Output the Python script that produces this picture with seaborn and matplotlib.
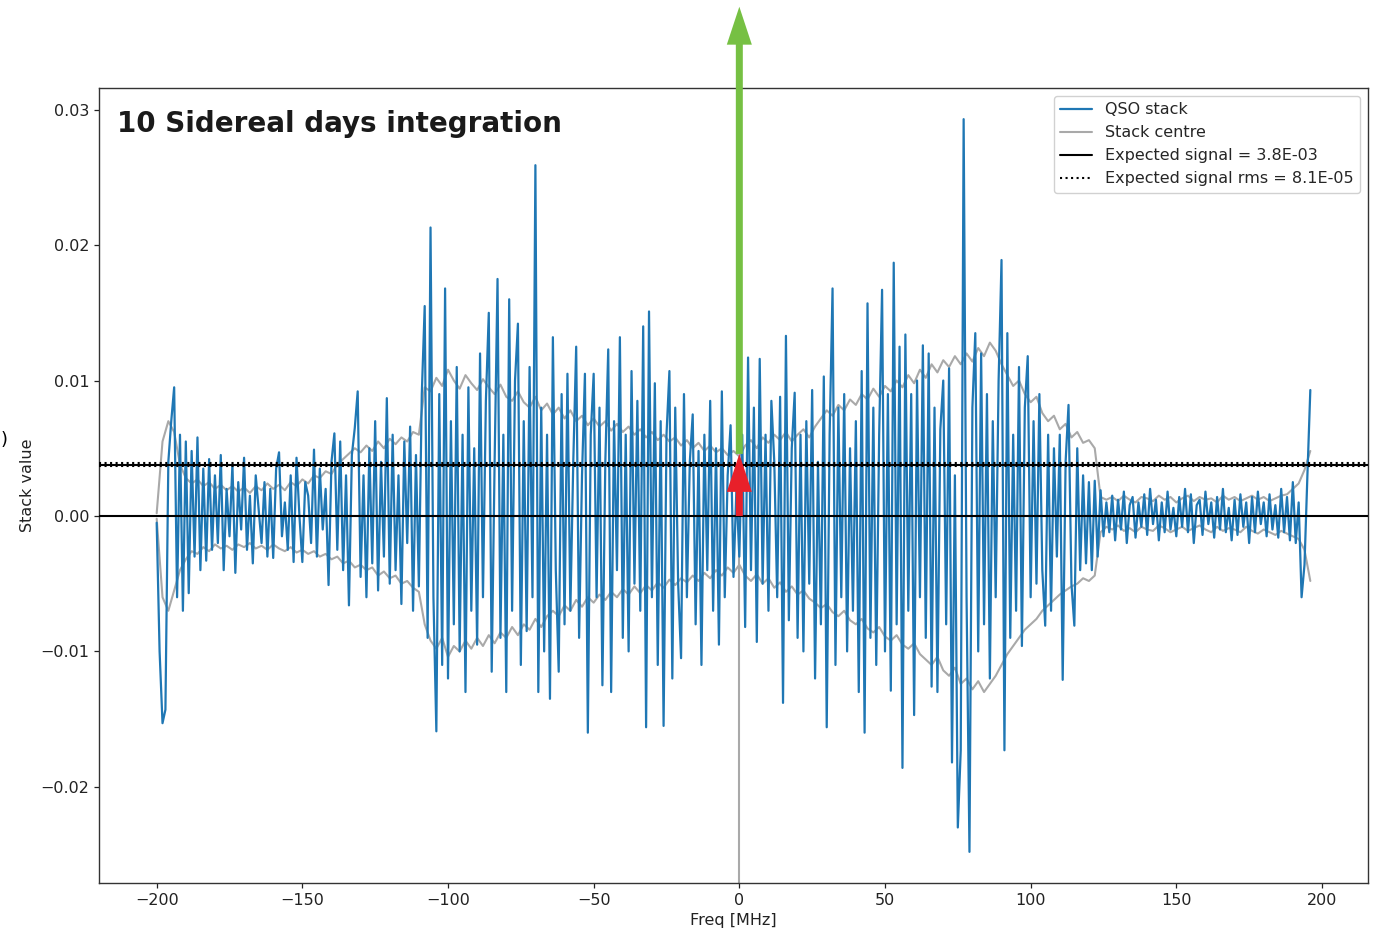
import numpy as np
import pandas as pd
import matplotlib
matplotlib.use("Agg")
import matplotlib.pyplot as plt
import seaborn as sns
from matplotlib.patches import FancyArrow
from matplotlib.lines import Line2D

# ---------------- data (values in units of 1e-4) ----------------
freq_mhz = np.arange(-200, 197)          # channel frequencies, 1 MHz steps
qso_stack_e4 = [
    -5, -100, -153, -143, 40, 70, 95, -60, 60, -70,
    55, -57, 48, -30, 58, -40, 35, -33, 42, -25,
    30, -20, 45, -40, 20, -15, 38, -42, 25, -10,
    43, -25, 15, -35, 30, 5, -20, 25, -30, 20,
    -31, 35, 47, -15, 10, -25, 30, -34, 43, 0,
    -34, 25, 15, -20, 49, -30, 35, -10, 20, -51,
    40, 61, -25, 55, -40, 30, -66, 45, 65, 92,
    -45, 30, -60, 50, -35, 70, -55, 40, -30, 87,
    -50, 60, -40, 30, -65, 55, -20, 66, -70, 45,
    -52, 90, 155, -90, 213, -60, -159, 90, -110, 168,
    -120, 70, -80, 110, -100, 60, -130, 95, -70, 50,
    -95, 120, -60, 85, 150, -115, 40, 175, -90, 60,
    -130, 160, -70, 100, 142, -110, 70, -85, 110, -60,
    259, -130, 80, -100, 60, -135, 132, -40, -115, 90,
    -80, 105, -70, 40, 125, -90, 30, 105, -160, 60,
    105, -60, 80, -125, 40, 123, -130, 70, -40, 132,
    -90, 60, -100, 107, -50, 85, -70, 140, -156, 151,
    -60, 98, -110, 70, -155, 60, 107, -120, 80, -50,
    -105, 90, -60, 40, 75, -80, 48, -110, 60, -40,
    85, -70, 50, -95, 92, -60, 30, 67, -45, 20,
    -30, 60, -82, 117, -40, 80, -93, 116, -50, 60,
    -70, 85, 40, -60, 88, -138, 133, -77, 50, 91,
    -90, 60, -100, 70, -50, 93, -120, 40, -80, 103,
    -156, 60, 168, -110, 80, -60, 90, -100, 50, -70,
    70, -130, 107, -160, 157, -90, 80, -110, 60, 167,
    -100, 90, -129, 187, -80, 125, -186, 134, -70, 90,
    -147, 100, -60, 126, -90, 120, -126, 80, -130, 64,
    100, -80, 109, -182, 30, -230, -173, 293, -60, -248,
    80, 135, -100, 120, -80, 90, -120, 70, -60, 100,
    189, -173, 135, -90, 60, -70, 110, -96, 80, 118,
    -60, 70, -50, 90, -40, -81, 60, -70, 50, -30,
    60, -121, 40, 82, -50, -81, 50, -40, 30, -35,
    25, -40, 26, -30, 19, -15, 10, -12, 15, -18,
    12, -10, 18, -20, 8, 14, -16, 10, -8, 16,
    -14, 20, -6, 12, -18, 10, -12, 18, -10, 6,
    -15, 14, -8, 20, -12, 16, -20, 8, 12, -14,
    18, -6, 10, -16, 14, -10, 20, -12, 6, -18,
    12, -14, 16, -8, 10, -20, 14, -12, 18, -6,
    10, -15, 16, -10, 8, -16, 20, -12, 14, -18,
    25, -20, 10, -60, -36, 30, 93,
]

centre_freq_mhz = np.arange(-200, 197, 2)  # 2 MHz steps
centre_upper_e4 = [
    2, 55, 70, 62, 38, 28, 24, 27, 22, 25,
    20, 23, 19, 22, 18, 21, 17, 22, 19, 24,
    20, 23, 19, 25, 22, 27, 24, 30, 28, 33,
    31, 38, 42, 46, 50, 47, 52, 48, 55, 50,
    57, 53, 58, 55, 62, 60, 95, 92, 102, 96,
    108, 100, 94, 104, 98, 93, 101, 95, 90, 97,
    88, 85, 92, 84, 80, 88, 78, 83, 75, 80,
    72, 78, 70, 74, 67, 72, 66, 70, 63, 68,
    62, 66, 60, 64, 58, 62, 56, 60, 55, 58,
    52, 56, 50, 54, 48, 52, 47, 50, 45, 48,
    44, 52, 56, 50, 58, 54, 60, 56, 62, 55,
    60, 64, 58, 66, 72, 78, 74, 82, 78, 86,
    82, 90, 86, 94, 88, 96, 92, 100, 95, 104,
    98, 108, 102, 112, 106, 115, 110, 118, 112, 120,
    114, 124, 118, 128, 122, 112, 104, 96, 100, 90,
    84, 88, 76, 70, 74, 64, 68, 58, 62, 54,
    56, 50, 14, 12, 14, 11, 15, 12, 10, 14,
    13, 11, 15, 12, 14, 10, 13, 15, 11, 14,
    12, 13, 10, 15, 12, 14, 11, 13, 15, 12,
    14, 11, 13, 15, 16, 20, 24, 34, 48,
]
centre_lower_e4 = [
    -2, -60, -70, -55, -40, -32, -26, -28, -23, -26,
    -21, -24, -22, -25, -21, -23, -20, -24, -22, -25,
    -21, -24, -26, -23, -27, -25, -28, -26, -30, -28,
    -32, -30, -35, -33, -38, -36, -40, -38, -44, -41,
    -46, -44, -50, -48, -53, -56, -80, -92, -98, -90,
    -104, -96, -100, -92, -98, -90, -96, -88, -94, -86,
    -90, -82, -88, -80, -84, -76, -82, -74, -70, -74,
    -66, -70, -62, -67, -60, -64, -58, -62, -56, -60,
    -54, -58, -52, -57, -51, -55, -49, -53, -47, -51,
    -46, -49, -44, -48, -42, -46, -40, -44, -38, -42,
    -36, -44, -48, -43, -50, -46, -53, -49, -56, -52,
    -58, -55, -61, -64, -68, -65, -71, -74, -70, -77,
    -80, -76, -83, -86, -82, -89, -92, -88, -95, -98,
    -94, -102, -106, -110, -104, -114, -118, -112, -124, -120,
    -128, -122, -130, -124, -118, -110, -102, -96, -90, -84,
    -80, -76, -70, -66, -62, -58, -55, -52, -50, -46,
    -48, -44, -12, -8, -10, -7, -11, -9, -12, -8,
    -10, -11, -7, -9, -12, -10, -8, -11, -9, -7,
    -10, -12, -8, -11, -9, -10, -12, -8, -11, -13,
    -10, -12, -14, -11, -13, -15, -17, -25, -48,
]

expected_signal = 3.8e-3
expected_rms = 8.1e-5
x_ticks = [-200, -150, -100, -50, 0, 50, 100, 150, 200]
y_ticks = [-0.02, -0.01, 0.00, 0.01, 0.02, 0.03]
title_text = "10 Sidereal days integration"
labels = ["QSO stack", "Stack centre",
          "Expected signal = 3.8E-03", "Expected signal rms = 8.1E-05"]

qso_stack = np.array(qso_stack_e4) * 1e-4
centre_upper = np.array(centre_upper_e4) * 1e-4
centre_lower = np.array(centre_lower_e4) * 1e-4

# ---------------- style ----------------
sns.set_theme(style="ticks")
plt.rcParams['font.family'] = ['DejaVu Sans']
plt.rcParams.update({
    'axes.edgecolor': '#333333', 'axes.linewidth': 1.0,
    'xtick.major.size': 3.5, 'ytick.major.size': 3.5,
    'xtick.major.width': 0.9, 'ytick.major.width': 0.9,
    'xtick.color': '#222222', 'ytick.color': '#222222',
    'font.size': 11.5,
})

BLUE = '#1f77b4'
GREY = '#a9a9a9'

fig = plt.figure(figsize=(13.79, 9.35), dpi=100)
ax = fig.add_axes([99 / 1379, 1 - 883 / 935, 1269 / 1379, 795 / 935])
ax.set_facecolor('white')

df_q = pd.DataFrame({'freq': freq_mhz, 'value': qso_stack})
df_u = pd.DataFrame({'freq': centre_freq_mhz, 'value': centre_upper})
df_l = pd.DataFrame({'freq': centre_freq_mhz, 'value': centre_lower})

sns.lineplot(data=df_u, x='freq', y='value', ax=ax, color=GREY, lw=1.5,
             estimator=None, sort=False, zorder=2)
sns.lineplot(data=df_l, x='freq', y='value', ax=ax, color=GREY, lw=1.5,
             estimator=None, sort=False, zorder=2)
sns.lineplot(data=df_q, x='freq', y='value', ax=ax, color=BLUE, lw=1.6,
             estimator=None, sort=False, zorder=3)

ylo, yhi = -0.0271, 0.0316
ax.set_ylim(ylo, yhi)

# vertical grey line of stack centre at 0
ax.plot([0, 0], [ylo, 0], color=GREY, lw=1.5, zorder=2)

ax.axhline(0, color='black', lw=1.5, zorder=4)
ax.axhline(expected_signal, color='black', lw=1.5, zorder=4)
ax.axhline(expected_signal + expected_rms, color='black', lw=1.5, ls=':', zorder=4)
ax.axhline(expected_signal - expected_rms, color='black', lw=1.5, ls=':', zorder=4)

# arrows
tip = 0.00458
top = 0.0376
ax.add_patch(FancyArrow(0, 0, 0, tip, width=2.4, head_width=8.6, head_length=0.0028,
                        length_includes_head=True, color='#e8202a', zorder=6,
                        clip_on=False, lw=0))
ax.add_patch(FancyArrow(0, tip, 0, top - tip, width=2.4, head_width=8.6,
                        head_length=0.0028, length_includes_head=True,
                        color='#76c043', zorder=6, clip_on=False, lw=0))

ax.set_xticks(x_ticks)
ax.set_yticks(y_ticks)
ax.set_xlim(-219.8, 215.8)
ax.set_xlabel('Freq [MHz]', fontsize=11.5, color='#222222')
ax.set_ylabel('Stack value', fontsize=11.5, color='#222222')
ax.tick_params(labelsize=11.5)
for s in ax.spines.values():
    s.set_visible(True)

ax.text(0.0142, 0.972, title_text, transform=ax.transAxes, fontsize=20,
        fontweight='bold', va='top', ha='left', color='#1a1a1a', zorder=7)

handles = [Line2D([], [], color=BLUE, lw=1.6),
           Line2D([], [], color=GREY, lw=1.5),
           Line2D([], [], color='black', lw=1.5),
           Line2D([], [], color='black', lw=1.5, ls=':')]
leg = ax.legend(handles, labels, loc='upper right', fontsize=11.5, frameon=True,
                fancybox=True, framealpha=0.9, edgecolor='#cccccc')
leg.set_zorder(8)

fig.text(0.0005, 1 - 440 / 935, ')', fontsize=13, va='center', ha='left', color='black')

fig.savefig('out.png', dpi=100)
